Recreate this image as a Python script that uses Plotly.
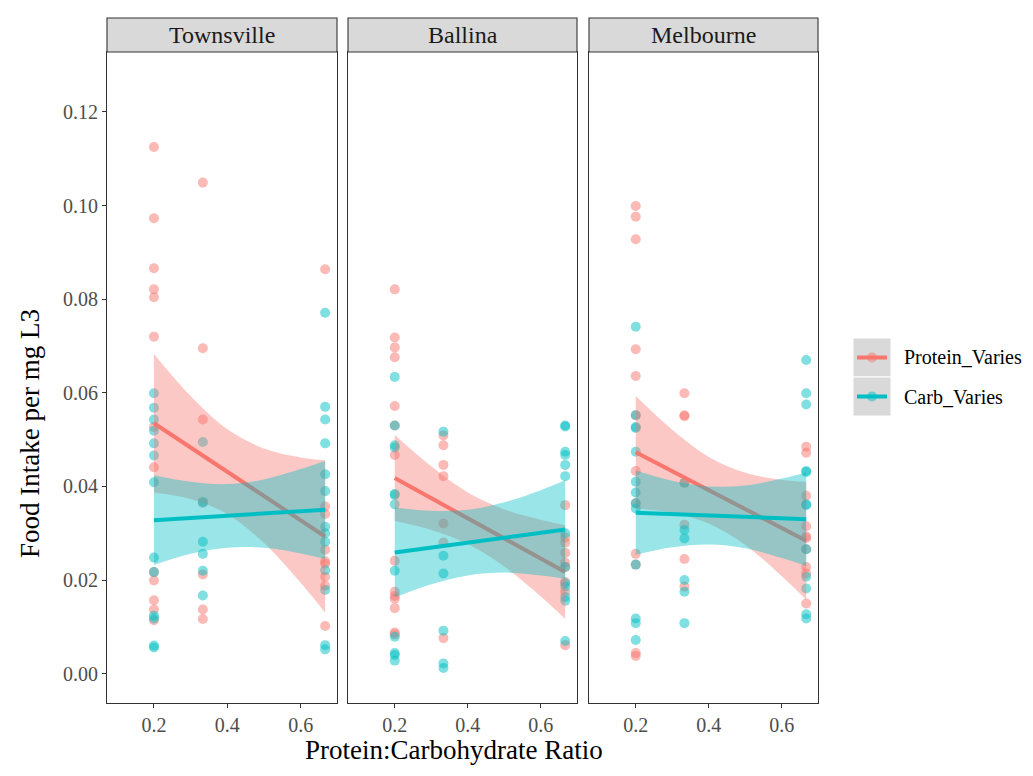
import plotly.graph_objects as go

# ---------------- data ----------------
sites = ["Townsville", "Ballina", "Melbourne"]
groups = ["Protein_Varies", "Carb_Varies"]
x_levels = [0.2, 0.3333, 0.6667]

# points: [site][group] -> list per x level
townsville_protein = [
    [0.1125, 0.0973, 0.0866, 0.0821, 0.0804, 0.0720, 0.0527, 0.0441, 0.0217, 0.0199, 0.0157, 0.0137, 0.0114],
    [0.1049, 0.0695, 0.0543, 0.0365, 0.0212, 0.0137, 0.0117],
    [0.0864, 0.0357, 0.0341, 0.0265, 0.0240, 0.0235, 0.0207, 0.0188, 0.0102],
]
townsville_carb = [
    [0.0599, 0.0568, 0.0543, 0.0519, 0.0492, 0.0466, 0.0409, 0.0248, 0.0217, 0.0124, 0.0118, 0.0060, 0.0056],
    [0.0495, 0.0367, 0.0282, 0.0256, 0.0220, 0.0167],
    [0.0771, 0.0570, 0.0543, 0.0492, 0.0426, 0.0390, 0.0314, 0.0300, 0.0282, 0.0221, 0.0179, 0.0061, 0.0052],
]
ballina_protein = [
    [0.0821, 0.0718, 0.0697, 0.0676, 0.0572, 0.0530, 0.0467, 0.0241, 0.0175, 0.0166, 0.0160, 0.0140, 0.0088, 0.0084],
    [0.0509, 0.0488, 0.0446, 0.0422, 0.0321, 0.0280, 0.0076],
    [0.0360, 0.0291, 0.0280, 0.0258, 0.0237, 0.0228, 0.0196, 0.0175, 0.0061],
]
ballina_carb = [
    [0.0634, 0.0530, 0.0488, 0.0483, 0.0384, 0.0382, 0.0362, 0.0220, 0.0079, 0.0044, 0.0040, 0.0028],
    [0.0517, 0.0252, 0.0214, 0.0092, 0.0022, 0.0012],
    [0.0530, 0.0528, 0.0474, 0.0467, 0.0446, 0.0422, 0.0300, 0.0228, 0.0193, 0.0186, 0.0164, 0.0156, 0.0070],
]
melbourne_protein = [
    [0.0999, 0.0976, 0.0928, 0.0693, 0.0636, 0.0552, 0.0433, 0.0364, 0.0256, 0.0233, 0.0044, 0.0038],
    [0.0599, 0.0552, 0.0550, 0.0408, 0.0318, 0.0245, 0.0186],
    [0.0485, 0.0472, 0.0380, 0.0315, 0.0293, 0.0290, 0.0266, 0.0228, 0.0214, 0.0150],
]
melbourne_carb = [
    [0.0741, 0.0552, 0.0527, 0.0525, 0.0474, 0.0410, 0.0387, 0.0364, 0.0353, 0.0233, 0.0118, 0.0108, 0.0072],
    [0.0408, 0.0307, 0.0289, 0.0200, 0.0175, 0.0108],
    [0.0670, 0.0599, 0.0575, 0.0433, 0.0431, 0.0362, 0.0360, 0.0266, 0.0207, 0.0182, 0.0127, 0.0118],
]

# fitted lines (value at x=0.2 and x=0.667)
fit_x = [0.2, 0.6667]
townsville_fit = {"Protein_Varies": [0.0535, 0.0293], "Carb_Varies": [0.0328, 0.0350]}
ballina_fit = {"Protein_Varies": [0.0418, 0.0217], "Carb_Varies": [0.0259, 0.0308]}
melbourne_fit = {"Protein_Varies": [0.0473, 0.0284], "Carb_Varies": [0.0344, 0.0330]}

# confidence ribbons read at these x positions
band_x = [0.2, 0.3, 0.4, 0.5, 0.6, 0.6667]
townsville_band = {
    "Protein_Varies": ([0.0387, 0.0373, 0.0341, 0.0279, 0.0194, 0.0130],
                       [0.0683, 0.0593, 0.0522, 0.0481, 0.0462, 0.0456]),
    "Carb_Varies": ([0.0232, 0.0256, 0.0269, 0.0269, 0.0257, 0.0245],
                    [0.0424, 0.0410, 0.0405, 0.0415, 0.0437, 0.0455]),
}
ballina_band = {
    "Protein_Varies": ([0.0326, 0.0307, 0.0277, 0.0229, 0.0165, 0.0117],
                       [0.0510, 0.0443, 0.0387, 0.0351, 0.0329, 0.0317]),
    "Carb_Varies": ([0.0163, 0.0191, 0.0210, 0.0216, 0.0210, 0.0203],
                    [0.0355, 0.0348, 0.0350, 0.0366, 0.0392, 0.0413]),
}
melbourne_band = {
    "Protein_Varies": ([0.0353, 0.0344, 0.0321, 0.0275, 0.0208, 0.0158],
                       [0.0593, 0.0521, 0.0463, 0.0429, 0.0414, 0.0410]),
    "Carb_Varies": ([0.0254, 0.0270, 0.0276, 0.0268, 0.0247, 0.0230],
                    [0.0434, 0.0412, 0.0400, 0.0402, 0.0417, 0.0430]),
}

x_ticks = [0.2, 0.4, 0.6]
x_tick_labels = ["0.2", "0.4", "0.6"]
y_ticks = [0.0, 0.02, 0.04, 0.06, 0.08, 0.10, 0.12]
y_tick_labels = ["0.00", "0.02", "0.04", "0.06", "0.08", "0.10", "0.12"]

points = {
    "Townsville": {"Protein_Varies": townsville_protein, "Carb_Varies": townsville_carb},
    "Ballina": {"Protein_Varies": ballina_protein, "Carb_Varies": ballina_carb},
    "Melbourne": {"Protein_Varies": melbourne_protein, "Carb_Varies": melbourne_carb},
}
fits = {"Townsville": townsville_fit, "Ballina": ballina_fit, "Melbourne": melbourne_fit}
bands = {"Townsville": townsville_band, "Ballina": ballina_band, "Melbourne": melbourne_band}

# ---------------- styling ----------------
W, H = 1033, 776
L, R, T, B = 107, 818, 52, 703
colors = {"Protein_Varies": (248, 118, 109), "Carb_Varies": (0, 191, 196)}
FONT = "Liberation Serif"


def rgba(c, a):
    return f"rgba({c[0]},{c[1]},{c[2]},{a})"


def px_x(p):
    return (p - L) / (R - L)


def px_y(p):
    return (B - p) / (B - T)


panel_px = [(107, 337), (348, 577), (589, 818)]

fig = go.Figure()

for i, site in enumerate(sites):
    xa = "x" if i == 0 else f"x{i+1}"
    ya = "y" if i == 0 else f"y{i+1}"
    # points
    for g in groups:
        xs, ys = [], []
        for xl, vals in zip(x_levels, points[site][g]):
            xs += [xl] * len(vals)
            ys += vals
        fig.add_trace(go.Scatter(
            x=xs, y=ys, mode="markers", xaxis=xa, yaxis=ya, showlegend=False,
            marker=dict(size=10, color=rgba(colors[g], 0.5), line=dict(width=0)),
            hoverinfo="skip"))
    # smooth: ribbon then line, per group
    for g in groups:
        lo, hi = bands[site][g]
        fig.add_trace(go.Scatter(
            x=band_x, y=lo, mode="lines", xaxis=xa, yaxis=ya, showlegend=False,
            line=dict(width=0, shape="spline", color=rgba(colors[g], 0)), hoverinfo="skip"))
        fig.add_trace(go.Scatter(
            x=band_x, y=hi, mode="lines", xaxis=xa, yaxis=ya, showlegend=False,
            fill="tonexty", fillcolor=rgba(colors[g], 0.4),
            line=dict(width=0, shape="spline", color=rgba(colors[g], 0)), hoverinfo="skip"))
        fig.add_trace(go.Scatter(
            x=fit_x, y=fits[site][g], mode="lines", xaxis=xa, yaxis=ya, showlegend=False,
            line=dict(width=4, color=rgba(colors[g], 1)), hoverinfo="skip"))

axis_common = dict(showline=True, mirror=True, linecolor="#333333", linewidth=1.1,
                   showgrid=False, zeroline=False, ticks="outside", ticklen=4,
                   tickcolor="#333333", tickwidth=1.1,
                   tickfont=dict(family=FONT, size=20, color="#4D4D4D"))

layout = dict(
    width=W, height=H, margin=dict(l=L, r=W - R, t=T, b=H - B),
    paper_bgcolor="white", plot_bgcolor="white", showlegend=False,
    font=dict(family=FONT),
)
for i, (a, b) in enumerate(panel_px):
    key = "" if i == 0 else str(i + 1)
    layout["xaxis" + key] = dict(
        domain=[px_x(a), px_x(b)], range=[0.072, 0.699], anchor="y" + key,
        tickvals=x_ticks, ticktext=x_tick_labels, **axis_common)
    yax = dict(domain=[0, 1], range=[-0.00626, 0.1328], anchor="x" + key,
               tickvals=y_ticks, ticktext=y_tick_labels, **axis_common)
    if i > 0:
        yax["showticklabels"] = False
        yax["ticks"] = ""
        yax["matches"] = "y"
    layout["yaxis" + key] = yax
fig.update_layout(**layout)

shapes = []
annotations = []
strip_h = 34 / (B - T)
for i, site in enumerate(sites):
    xr = "x domain" if i == 0 else f"x{i+1} domain"
    shapes.append(dict(type="rect", xref=xr, yref="paper", x0=0, x1=1, y0=1, y1=1 + strip_h,
                       fillcolor="#D9D9D9", line=dict(color="#333333", width=1.1), layer="above"))
    annotations.append(dict(text=site, xref=xr, yref="paper", x=0.5, y=1 + strip_h / 2,
                            showarrow=False, xanchor="center", yanchor="middle",
                            font=dict(family=FONT, size=24, color="#1A1A1A")))

# axis titles
annotations.append(dict(text="Protein:Carbohydrate Ratio", xref="paper", yref="paper",
                        x=px_x(454), y=px_y(750), showarrow=False, xanchor="center", yanchor="middle",
                        font=dict(family=FONT, size=27, color="black")))
annotations.append(dict(text="Food Intake per mg L3", xref="paper", yref="paper",
                        x=px_x(30), y=px_y(434), showarrow=False, xanchor="center", yanchor="middle",
                        textangle=-90, font=dict(family=FONT, size=27, color="black")))

# legend drawn manually (grey keys with line + point)
key_boxes = [(338, 377), (377, 416)]
for g, (y0, y1) in zip(groups, key_boxes):
    yc = (y0 + y1) / 2
    shapes.append(dict(type="rect", xref="paper", yref="paper", x0=px_x(853), x1=px_x(891),
                       y0=px_y(y1), y1=px_y(y0), fillcolor="#D9D9D9", line=dict(width=1, color="white")))
    shapes.append(dict(type="line", xref="paper", yref="paper", x0=px_x(857), x1=px_x(887),
                       y0=px_y(yc), y1=px_y(yc), line=dict(color=rgba(colors[g], 1), width=4)))
    shapes.append(dict(type="circle", xref="paper", yref="paper", x0=px_x(867), x1=px_x(877),
                       y0=px_y(yc + 5), y1=px_y(yc - 5), fillcolor=rgba(colors[g], 0.5),
                       line=dict(width=0)))
    annotations.append(dict(text=g, xref="paper", yref="paper", x=px_x(902), y=px_y(yc),
                            showarrow=False, xanchor="left", yanchor="middle",
                            font=dict(family=FONT, size=20, color="black")))

fig.update_layout(shapes=shapes, annotations=annotations)
fig.write_html("out.html")
